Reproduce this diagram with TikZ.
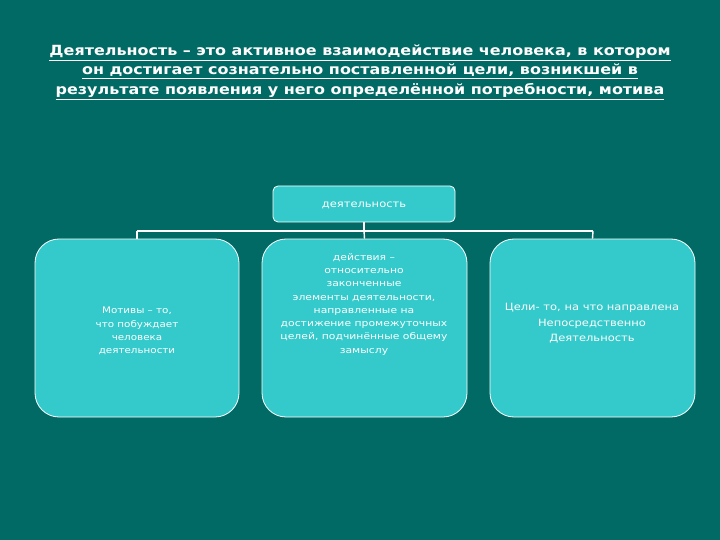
\documentclass[tikz,border=0pt]{standalone}
\usepackage{fontspec}
\usepackage{graphicx}
\setmainfont{DejaVu Sans}
\newcommand{\hstretch}[2]{\scalebox{#1}[1]{\begin{tabular}{@{}c@{}}#2\end{tabular}}}
\begin{document}
\begin{tikzpicture}[x=1pt,y=-1pt,
  bg/.style={fill=bgteal,draw=none},
  boxstyle/.style={draw=white,line width=0.8pt,fill=boxteal,rounded corners=24pt,inner sep=0pt},
  topbox/.style={draw=white,line width=0.8pt,fill=boxteal,rounded corners=5pt,inner sep=0pt},
  conn/.style={draw=white,line width=1.4pt},
  btxt/.style={text=white,align=center,inner sep=0pt,font=\fontsize{9}{13.3}\selectfont}]
\definecolor{bgteal}{RGB}{2,106,101}
\definecolor{boxteal}{RGB}{52,201,202}
\path[bg] (0,0) rectangle (720,540);
\useasboundingbox (0,0) rectangle (720,540);
\node[text=white,inner sep=0pt,font=\bfseries\fontsize{14}{19.5}\selectfont] (title) at (360,71)
 {\hstretch{1.14}{\underline{Деятельность – это активное взаимодействие человека, в котором}\\
  \underline{он достигает сознательно поставленной цели, возникшей в}\\
  \underline{результате появления у него определённой потребности, мотива}}};
\node[topbox,minimum width=182pt,minimum height=36pt] (top) at (364,204) {};
\node[btxt,font=\fontsize{10}{13}\selectfont] (tt) at (364,205) {\hstretch{1.15}{деятельность}};
\node[boxstyle,minimum width=204pt,minimum height=178pt] (left) at (137,328) {};
\node[boxstyle,minimum width=205pt,minimum height=178pt] (mid) at (364.5,328) {};
\node[boxstyle,minimum width=205pt,minimum height=178pt] (right) at (592.5,328) {};
\coordinate (j) at (364,231);
\coordinate (jl) at (137,231);
\coordinate (jr) at (593,231);
\draw[conn] (top.south) -- (j);
\draw[conn] (jl) -- (jr);
\draw[conn] (jl) -- (left.north);
\draw[conn] (j) -- (mid.north);
\draw[conn] (jr) -- (right.north);
\node[btxt] (lt) at (137,331) {\hstretch{1.15}{Мотивы – то,\\что побуждает\\человека\\деятельности}};
\node[btxt] (mt) at (364,304) {\hstretch{1.2}{действия –\\относительно\\законченные\\элементы деятельности,\\направленные на\\достижение промежуточных\\целей, подчинённые общему\\замыслу}};
\node[btxt,font=\fontsize{10}{15.5}\selectfont] (rt) at (592,323) {\hstretch{1.15}{Цели- то, на что направлена\\Непосредственно\\Деятельность}};
\end{tikzpicture}
\end{document}
